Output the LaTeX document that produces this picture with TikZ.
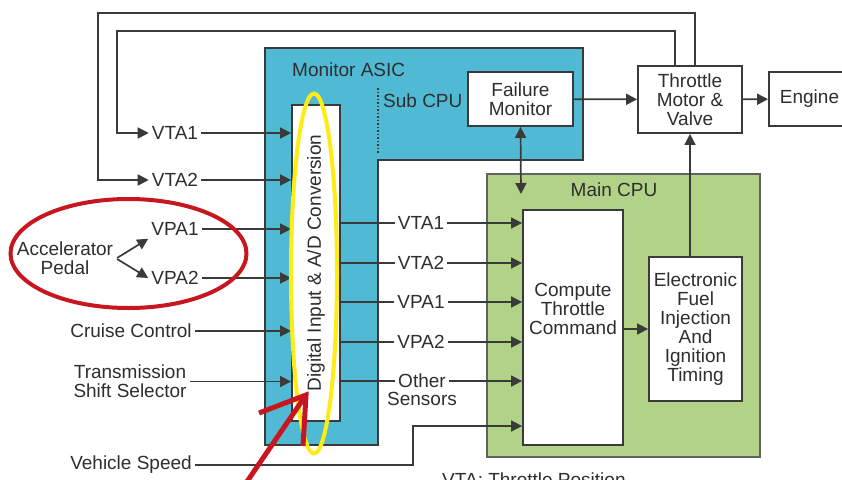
\documentclass[tikz,border=0pt]{standalone}
\usepackage{fontspec}
\setmainfont{Liberation Sans}
\usepackage{xcolor}
\usetikzlibrary{arrows.meta, positioning, shapes.geometric}
\definecolor{asicblue}{RGB}{80,186,213}
\definecolor{cpugreen}{RGB}{178,210,136}
\definecolor{linegray}{RGB}{58,58,58}
\definecolor{markred}{RGB}{200,22,32}
\definecolor{markyellow}{RGB}{255,236,20}

\begin{document}
\begin{tikzpicture}[
    x=1pt, y=-1pt,
    every node/.style={font=\fontsize{19}{19}\selectfont, text=black!82},
    box/.style={rectangle, draw=linegray, line width=1.8pt, fill=white,
                align=center, inner sep=0pt},
    lbl/.style={inner sep=3pt, align=center},
    arr/.style={-{Triangle[length=11pt, width=11pt]}, line width=1.7pt, color=linegray},
    dblarr/.style={{Triangle[length=11pt, width=11pt]}-{Triangle[length=11pt, width=11pt]},
                   line width=1.7pt, color=linegray},
    wire/.style={line width=1.7pt, color=linegray},
    hilite/.style={line width=4pt},
]
\path[use as bounding box, clip] (0,0) rectangle (842,479);

% blocks
\draw[fill=asicblue, draw=linegray, line width=1.8pt]
    (265,48) -- (583,48) -- (583,160) -- (378,160) -- (378,445) -- (265,445) -- cycle;
\node[box, fill=cpugreen, draw=linegray!80] (main) at (623.5,315.5)
    [minimum width=273pt, minimum height=283pt] {};
\node[lbl, anchor=west] (asiclbl) at (289,70) {Monitor ASIC};
\node[lbl, anchor=west] (sublbl) at (380,101) {Sub CPU};
\node[lbl] (mainlbl) at (614,190) {Main CPU};
\draw[dotted, line width=1.5pt, color=linegray] (378,88) -- (378,153);

\node[box, rotate=90, minimum width=316pt, minimum height=48pt] (adc) at (316,263)
    {Digital Input \& A/D Conversion};
\node[box, minimum width=105pt, minimum height=54pt] (fail) at (520.5,99) {Failure\\Monitor};
\node[box, minimum width=104pt, minimum height=67pt] (thr) at (690,99.5) {Throttle\\Motor \&\\Valve};
\node[box, minimum width=81pt, minimum height=54pt] (eng) at (809.5,99) {Engine};
\node[box, minimum width=100pt, minimum height=235pt] (cmp) at (573,327.5) {};
\node[lbl] (cmptxt) at (573,309) {Compute\\Throttle\\Command};
\node[box, minimum width=93pt, minimum height=144pt] (efi) at (695.5,329)
    {Electronic\\Fuel\\Injection\\And\\Ignition\\Timing};

% inputs
\node[lbl] (vta1l) at (175,133) {VTA1};
\node[lbl] (vta2l) at (175,180) {VTA2};
\node[lbl] (vpa1l) at (175,229) {VPA1};
\node[lbl] (vpa2l) at (175,278) {VPA2};
\node[lbl] (ped) at (65,258.5) {Accelerator\\Pedal};
\node[lbl] (cruise) at (131,331) {Cruise Control};
\node[lbl] (trans) at (130,381.5) {Transmission\\Shift Selector};
\node[lbl] (veh) at (131,465) {Vehicle Speed};

\node[lbl] (r1) at (421,223) {VTA1};
\node[lbl] (r2) at (421,263) {VTA2};
\node[lbl] (r3) at (421,302) {VPA1};
\node[lbl] (r4) at (421,342) {VPA2};
\node[lbl] (oth) at (422,381) {Other};
\node[lbl] (sens) at (422,399) {Sensors};
\node[lbl, anchor=north west] (note) at (439,470) {VTA: Throttle Position};
\coordinate (vsin) at (413,426);
\coordinate (failin) at (521,194);

% connectors
\draw[arr] ([xshift=-15pt]thr.north) |- (117,31) |- (vta1l.west);
\draw[arr] ([xshift=5pt]thr.north) |- (98,13) |- (vta2l.west);
\foreach \src in {vta1l, vta2l, vpa1l, vpa2l, cruise, trans}
    \draw[arr] (\src) -- (\src -| adc.north);
\draw[arr, shorten <=1pt] (ped.east) -- (vpa1l.south west);
\draw[arr, shorten <=1pt] (ped.east) -- (vpa2l.west);
\foreach \dst in {r1, r2, r3, r4, oth} {
    \draw[wire] (adc.south |- \dst) -- (\dst);
    \draw[arr] (\dst) -- (\dst -| cmp.west);
}
\draw[arr] (veh) -| (vsin) -- (vsin -| cmp.west);
\draw[arr] (cmp.east |- efi) -- (efi);
\draw[arr] (efi.north -| thr) -- (thr);
\draw[arr] (fail) -- (thr);
\draw[arr] (thr) -- (eng);
\draw[dblarr] (fail.south) -- (failin);

% highlights
\draw[markyellow, hilite] (314,273.5) ellipse [x radius=23, y radius=180];
\draw[markred, hilite] (128.5,253.5) ellipse [x radius=118, y radius=54.5];
\coordinate (rtip) at (306,395);
\draw[markred, line width=5pt] (244,486) -- (rtip);
\draw[markred, line width=5pt, line join=miter] (259,413) -- (rtip) -- (303,446);
\end{tikzpicture}
\end{document}
